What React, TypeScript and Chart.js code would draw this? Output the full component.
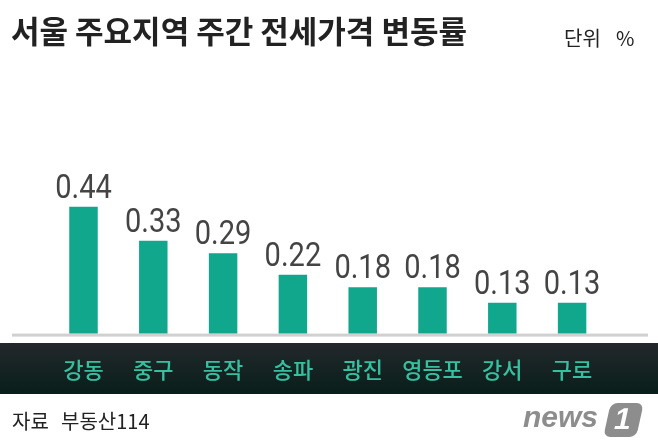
import React, { useEffect, useRef } from 'react';
import { Chart, registerables } from 'chart.js';

Chart.register(...registerables);

const categories = ['강동', '중구', '동작', '송파', '광진', '영등포', '강서', '구로'];
const changeRates = [0.44, 0.33, 0.29, 0.22, 0.18, 0.18, 0.13, 0.13];
const titleText = '서울 주요지역 주간 전세가격 변동률';
const unitLabel = '단위';
const unitSymbol = '%';
const sourceLabel = '자료';
const sourceName = '부동산114';

const W = 658;
const H = 447;

const decorPlugin = {
  id: 'decor',
  beforeDraw(chart: any) {
    const ctx = chart.ctx;
    ctx.save();
    ctx.fillStyle = '#ffffff';
    ctx.fillRect(0, 0, W, H);
    // dark band
    const g = ctx.createLinearGradient(0, 343, 0, 394);
    g.addColorStop(0, '#23282b');
    g.addColorStop(1, '#081e1b');
    ctx.fillStyle = g;
    ctx.fillRect(0, 343, W, 51);
    // baseline
    const bottom = chart.chartArea.bottom;
    ctx.fillStyle = '#d0d0d0';
    ctx.fillRect(12, bottom, 636, 3);
    ctx.restore();
  },
  afterDraw(chart: any) {
    const ctx = chart.ctx;
    ctx.save();
    // title
    ctx.fillStyle = '#222222';
    ctx.textBaseline = 'middle';
    ctx.textAlign = 'left';
    ctx.font = 'bold 31px "Noto Sans CJK KR"';
    ctx.fillText(titleText, 11, 31.5);
    // unit
    ctx.font = '20px "Noto Sans CJK KR"';
    ctx.fillText(unitLabel, 564, 38);
    ctx.fillText(unitSymbol, 616, 38);
    // source
    ctx.font = '20px "Noto Sans CJK KR"';
    ctx.fillText(sourceLabel, 12, 421);
    ctx.fillText(sourceName, 61, 421);
    // logo
    ctx.fillStyle = '#8d8d8d';
    ctx.textBaseline = 'alphabetic';
    ctx.font = 'bold italic 30px "Liberation Sans"';
    ctx.fillText('news', 523, 427);
    ctx.save();
    ctx.translate(623, 420);
    ctx.transform(1, 0, -0.22, 1, 0, 0);
    ctx.beginPath();
    (ctx as any).roundRect(-16, -17, 33, 34, 7);
    ctx.fill();
    ctx.fillStyle = '#ffffff';
    ctx.font = 'bold 30px "Liberation Sans"';
    ctx.textAlign = 'center';
    ctx.textBaseline = 'middle';
    ctx.fillText('1', 0, 1);
    ctx.restore();
    // value labels
    const meta = chart.getDatasetMeta(0);
    ctx.fillStyle = '#444444';
    ctx.textAlign = 'center';
    ctx.textBaseline = 'alphabetic';
    ctx.font = '400 33px Roboto';
    meta.data.forEach((bar: any, i: number) => {
      ctx.save();
      ctx.translate(bar.x, bar.y - 9);
      ctx.scale(0.88, 1);
      ctx.fillText(changeRates[i].toFixed(2), 0, 0);
      ctx.restore();
    });
    ctx.restore();
  },
};

export default function App() {
  const ref = useRef<HTMLCanvasElement>(null);
  useEffect(() => {
    if (!ref.current) return;
    const chart = new Chart(ref.current, {
      type: 'bar',
      data: {
        labels: categories,
        datasets: [
          {
            data: changeRates,
            backgroundColor: '#10a78c',
            borderWidth: 0,
            barPercentage: 0.408,
            categoryPercentage: 1,
          },
        ],
      },
      options: {
        responsive: false,
        animation: false,
        layout: { padding: { top: 100, left: 48.6, right: 51, bottom: 41 } },
        plugins: { legend: { display: false }, tooltip: { enabled: false } },
        scales: {
          x: {
            grid: { display: false, drawTicks: false },
            border: { display: false },
            ticks: {
              color: '#36c09f',
              padding: 23,
              font: { family: '"Noto Sans CJK KR"', size: 22, weight: 500 },
            },
          },
          y: {
            display: false,
            min: 0.03,
            max: 0.785,
          },
        },
      },
      plugins: [decorPlugin],
    });
    return () => chart.destroy();
  }, []);
  return (
    <div style={{ position: 'fixed', left: 0, top: 0, width: W, height: H }}>
      <canvas ref={ref} width={W} height={H} style={{ display: 'block' }} />
    </div>
  );
}
